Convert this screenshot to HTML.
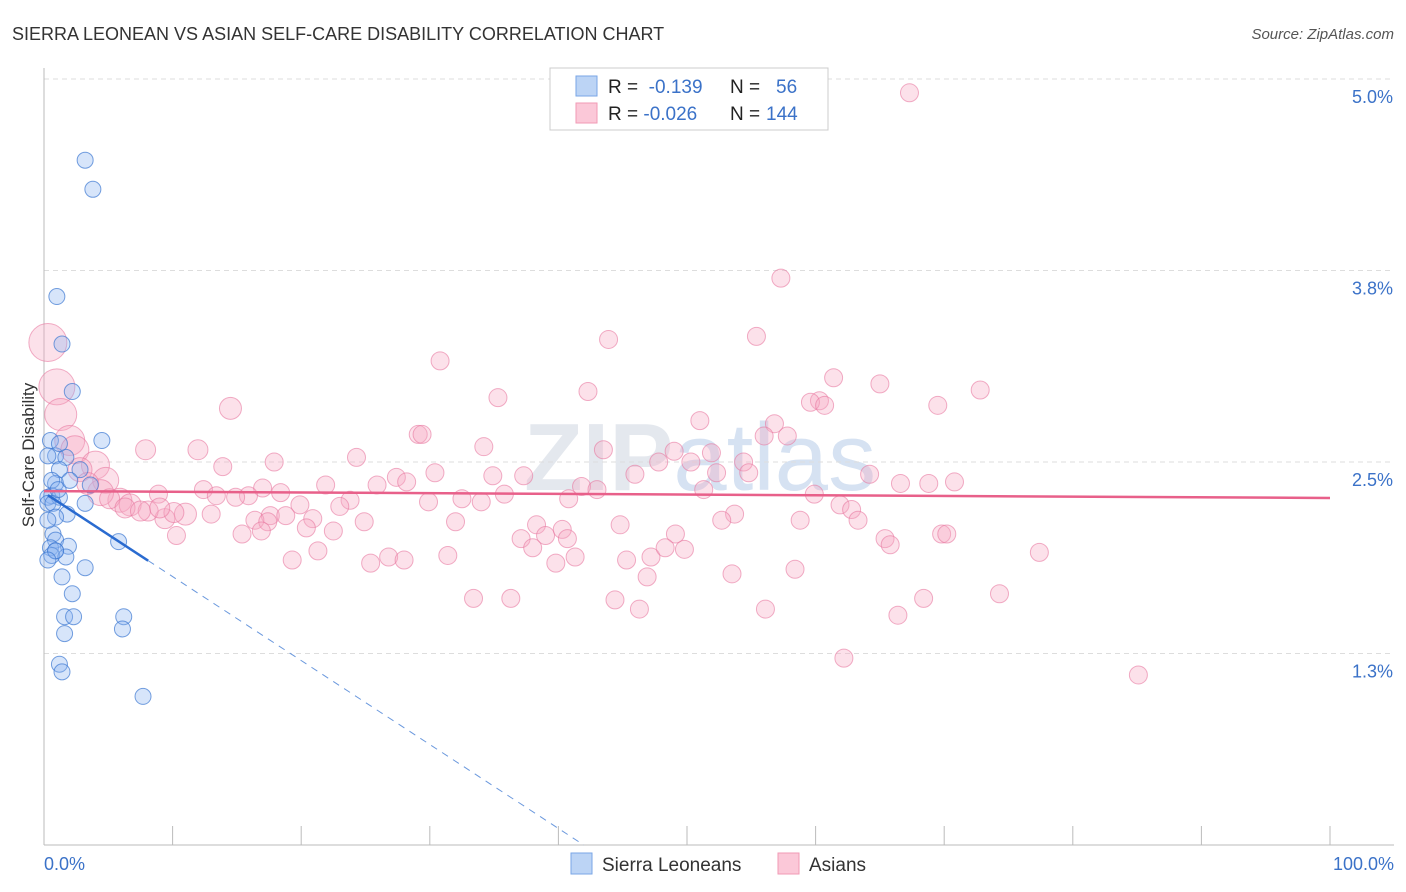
<!DOCTYPE html>
<html><head><meta charset="utf-8"><style>
body{margin:0;background:#fff;font-family:"Liberation Sans",sans-serif;}
svg{display:block}
</style></head><body>
<svg id="chart" width="1406" height="892">
<text x="12" y="40" font-size="18" fill="#333">SIERRA LEONEAN VS ASIAN SELF-CARE DISABILITY CORRELATION CHART</text>
<text x="1394" y="39" font-size="15" fill="#555" text-anchor="end" font-style="italic">Source: ZipAtlas.com</text>
<text x="700" y="490" font-size="96" fill="#e4e8ee" text-anchor="middle" font-weight="bold">ZIP<tspan font-weight="normal" fill="#d6e2f2">atlas</tspan></text>
<g id="grid"></g>
<g id="axes"></g>
<g id="pink"></g>
<g id="blue"></g>
<g id="trends"></g>
<text transform="translate(34,455) rotate(-90)" font-size="17" fill="#333" text-anchor="middle">Self-Care Disability</text>
<text x="44" y="870" font-size="18" fill="#3b72c8">0.0%</text>
<text x="1394" y="870" font-size="18" fill="#3b72c8" text-anchor="end">100.0%</text>
<g>
<rect x="550" y="68" width="278" height="62" fill="#fff" stroke="#ccc"/>
<rect x="576" y="76" width="21" height="20" fill="#bcd4f5" stroke="#7aa6e6"/>
<rect x="576" y="103" width="21" height="20" fill="#fbc8d8" stroke="#f29ab5"/>
<text x="608" y="93" font-size="19" fill="#222">R = <tspan fill="#3b72c8">&#160;-0.139</tspan><tspan x="730">N = </tspan><tspan fill="#3b72c8" x="776">56</tspan></text>
<text x="608" y="120" font-size="19" fill="#222">R = <tspan fill="#3b72c8">-0.026</tspan><tspan x="730">N = </tspan><tspan fill="#3b72c8" x="766">144</tspan></text>
</g>
<g>
<rect x="571" y="853" width="21" height="21" fill="#bcd4f5" stroke="#7aa6e6"/>
<text x="602" y="871" font-size="19" fill="#333">Sierra Leoneans</text>
<rect x="778" y="853" width="21" height="21" fill="#fbc8d8" stroke="#f29ab5"/>
<text x="809" y="871" font-size="19" fill="#333">Asians</text>
</g>
</svg>
<script>
const yTicks=[1.25,2.5,3.75,5.0];
const yTickLabels=["1.3%","2.5%","3.8%","5.0%"];
const xTicks=[0,10,20,30,40,50,60,70,80,90,100];
const blueX=[3.2,3.8,1.0,1.4,2.2,4.5,0.5,0.9,0.3,1.7,1.2,2.8,0.9,0.6,0.3,1.2,0.3,0.7,3.2,1.8,0.9,0.7,0.9,1.9,0.5,0.9,0.6,1.7,3.2,1.4,2.2,5.8,1.6,2.3,6.2,1.6,6.1,1.2,1.4,7.7,1.2,0.6,1.1,2.0,3.6,0.3,0.9,0.3];
const blueY=[4.47,4.28,3.58,3.27,2.96,2.64,2.64,2.54,2.54,2.53,2.45,2.45,2.36,2.28,2.27,2.27,2.23,2.23,2.23,2.16,2.14,2.03,1.99,1.95,1.94,1.92,1.89,1.88,1.81,1.75,1.64,1.98,1.49,1.49,1.49,1.38,1.41,1.18,1.13,0.97,2.62,2.38,2.32,2.38,2.35,2.12,1.92,1.86];
const pinkX=[67.3,57.3,43.9,55.4,30.8,42.3,35.3,65.0,61.4,72.8,69.5,60.3,59.6,60.7,14.5,51.0,56.8,29.1,29.4,56.0,57.8,34.2,7.9,11.97,43.5,49.0,51.9,24.3,17.9,47.8,50.3,54.4,13.9,30.4,34.9,37.3,45.95,52.3,54.8,64.2,27.4,28.2,25.9,21.9,41.8,43.0,70.8,68.8,66.6,12.4,17.0,8.9,51.3,59.9,15.9,13.4,14.9,18.4,32.5,35.8,40.8,29.9,34.0,23.8,19.9,23.0,61.9,17.6,11.0,9.4,5.9,6.7,8.1,10.1,13.0,16.4,17.4,18.8,20.9,24.9,32.0,38.3,44.8,53.7,52.7,58.8,62.8,63.3,15.4,16.9,20.4,22.5,10.3,39.0,40.3,37.1,40.7,38.0,49.1,65.4,65.8,69.8,70.2,19.3,21.3,26.8,28.0,25.4,31.4,39.8,41.3,47.2,48.3,49.8,45.3,77.4,53.5,58.4,46.9,33.4,36.3,44.4,46.3,56.1,68.4,74.3,66.4,62.2,85.1,4.0,4.8,4.4,2.8,3.4,5.1,6.3,7.5,9.0];
const pinkY=[4.91,3.70,3.30,3.32,3.16,2.96,2.92,3.01,3.05,2.97,2.87,2.90,2.89,2.87,2.85,2.77,2.75,2.68,2.68,2.67,2.67,2.60,2.58,2.58,2.58,2.57,2.56,2.53,2.50,2.50,2.50,2.50,2.47,2.43,2.41,2.41,2.42,2.43,2.43,2.42,2.40,2.37,2.35,2.35,2.34,2.32,2.37,2.36,2.36,2.32,2.33,2.29,2.32,2.29,2.28,2.28,2.27,2.30,2.26,2.29,2.26,2.24,2.24,2.25,2.22,2.21,2.22,2.15,2.16,2.13,2.25,2.22,2.18,2.17,2.16,2.12,2.11,2.15,2.13,2.11,2.11,2.09,2.09,2.16,2.12,2.12,2.19,2.12,2.03,2.05,2.07,2.05,2.02,2.02,2.06,2.00,2.00,1.94,2.03,2.00,1.96,2.03,2.03,1.86,1.92,1.88,1.86,1.84,1.89,1.84,1.88,1.88,1.94,1.93,1.86,1.91,1.77,1.80,1.75,1.61,1.61,1.60,1.54,1.54,1.61,1.64,1.50,1.22,1.11,2.48,2.38,2.30,2.45,2.36,2.26,2.20,2.18,2.20];
const pinkR=[9,9,9,9,9,9,9,9,9,9,9,9,9,9,11,9,9,9,9,9,9,9,10,10,9,9,9,9,9,9,9,9,9,9,9,9,9,9,9,9,9,9,9,9,9,9,9,9,9,9,9,9,9,9,9,9,9,9,9,9,9,9,9,9,9,9,9,9,11,10,12,11,10,10,9,9,9,9,9,9,9,9,9,9,9,9,9,9,9,9,9,9,9,9,9,9,9,9,9,9,9,9,9,9,9,9,9,9,9,9,9,9,9,9,9,9,9,9,9,9,9,9,9,9,9,9,9,9,9,14,13,13,12,11,10,10,10,10];
const bigX=[0.3,1.0,1.3,2.0,2.4];
const bigY=[3.28,2.99,2.81,2.64,2.58];
const bigR=[19,18,16,15,14];
const blueTrend=[2.30,-0.0548];
const pinkTrend=[2.31,-0.00045];
const X0=44,X1=1330,Y0=845,YS=153.2;
const sx=v=>X0+(X1-X0)*v/100, sy=v=>Y0-v*YS;
const NS="http://www.w3.org/2000/svg";
function mk(t,a,p){const e=document.createElementNS(NS,t);for(const k in a)e.setAttribute(k,a[k]);p.appendChild(e);return e;}
const grid=document.getElementById('grid'),axes=document.getElementById('axes');
yTicks.forEach((v,i)=>{
 const l=mk('line',{x1:X0,x2:1394,y1:sy(v),y2:sy(v),stroke:'#ddd','stroke-dasharray':'5,4'},grid);
 
 
 const t=mk('text',{x:1393,y:sy(v)+24,'font-size':18,fill:'#3b72c8','text-anchor':'end'},grid);
 t.textContent=yTickLabels[i];
 
 
});
const ax=mk('line',{x1:X0,x2:X0,y1:68,y2:Y0,stroke:'#bbb'},axes);


const bx=mk('line',{x1:X0,x2:1394,y1:Y0,y2:Y0,stroke:'#bbb'},axes);


xTicks.forEach(v=>{const t=mk('line',{x1:sx(v),x2:sx(v),y1:826,y2:Y0,stroke:'#bbb'},axes);
 
 });
const pg=document.getElementById('pink'),bg=document.getElementById('blue');
bigX.forEach((x,i)=>{const c=mk('circle',{cx:sx(x),cy:sy(bigY[i]),r:bigR[i],fill:'rgba(247,170,195,0.35)',stroke:'rgba(232,120,160,0.6)'},pg);
 
 });
pinkX.forEach((x,i)=>{const c=mk('circle',{cx:sx(x),cy:sy(pinkY[i]),r:pinkR[i],fill:'rgba(247,170,195,0.35)',stroke:'rgba(232,120,160,0.6)'},pg);
 
 });
blueX.forEach((x,i)=>{const c=mk('circle',{cx:sx(x),cy:sy(blueY[i]),r:8,fill:'rgba(140,180,240,0.35)',stroke:'rgba(60,120,210,0.7)'},bg);
 
 });
const tg=document.getElementById('trends');
const bf=x=>blueTrend[0]+blueTrend[1]*x, pf=x=>pinkTrend[0]+pinkTrend[1]*x;
const pl=mk('line',{x1:sx(0),y1:sy(pf(0)),x2:sx(100),y2:sy(pf(100)),stroke:'#e8608a','stroke-width':2.5},tg);


const bl=mk('line',{x1:sx(0.3),y1:sy(bf(0.3)),x2:sx(8.1),y2:sy(bf(8.1)),stroke:'#2a6bd0','stroke-width':2.5},tg);


const xe=-blueTrend[0]/blueTrend[1];
const bd=mk('line',{x1:sx(8.1),y1:sy(bf(8.1)),x2:sx(xe),y2:sy(0),stroke:'#6a98dd','stroke-width':1,'stroke-dasharray':'7,6'},tg);


</script>
</body></html>
